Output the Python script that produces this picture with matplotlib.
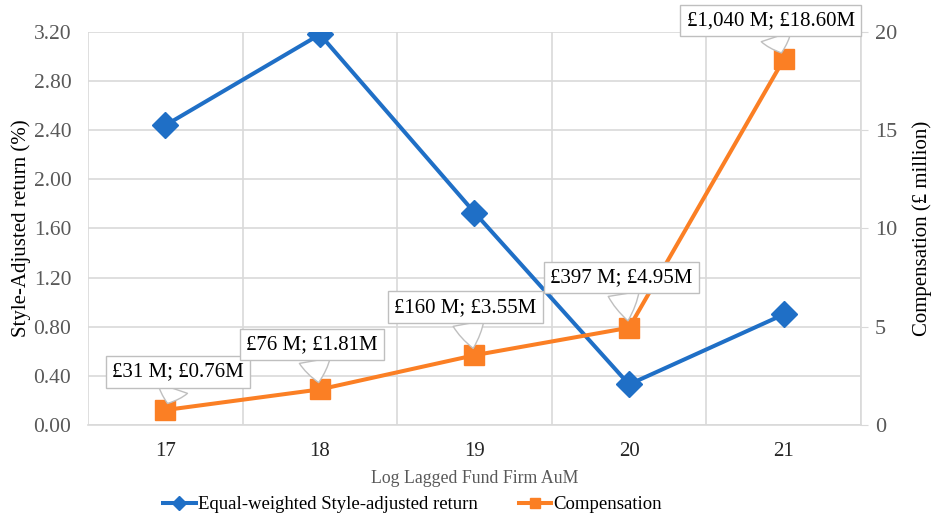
import matplotlib.pyplot as plt

plt.rcParams['font.family'] = ['Liberation Serif', 'DejaVu Serif']

log_aum = [17, 18, 19, 20, 21]
style_ret = [2.44, 3.18, 1.73, 0.33, 0.90]
compensation = [0.76, 1.81, 3.55, 4.95, 18.60]
callouts = ['£31 M; £0.76M', '£76 M; £1.81M', '£160 M; £3.55M',
            '£397 M; £4.95M', '£1,040 M; £18.60M']
# label box offsets from the point, in pixels
offsets = [(13, 38), (-8, 45), (-9, 48), (-8, 50), (-13, 39)]

blue = '#1f6fc6'
orange = '#fb7f24'
grid_c = '#d9d9d9'
tick_c = '#595959'

fig = plt.figure(figsize=(9.33, 5.21), dpi=100)
ax = fig.add_axes([0.0943, 0.1843, 0.8285, 0.7543])
ax2 = ax.twinx()

ln1, = ax.plot(log_aum, style_ret, color=blue, lw=2.9, marker='D', ms=13.5,
               label='Equal-weighted Style-adjusted return')
ln2, = ax2.plot(log_aum, compensation, color=orange, lw=2.9, marker='s', ms=14,
                label='Compensation')

ax.set_xlim(16.5, 21.5)
ax.set_ylim(0, 3.2)
ax2.set_ylim(0, 20)
ax.set_xticks(log_aum)
ax.set_yticks([i * 0.4 for i in range(9)])
ax.set_yticklabels([f'{i * 0.4:.2f}' for i in range(9)])
ax2.set_yticks([0, 5, 10, 15, 20])

ax.set_xticks([16.5 + i for i in range(6)], minor=True)
ax.grid(True, axis='y', color=grid_c, lw=1.2)
ax.grid(True, axis='x', which='minor', color=grid_c, lw=1.2)
ax.tick_params(axis='x', which='both', length=0, labelsize=15, pad=12, labelcolor='#262626')
ax.tick_params(axis='y', length=0, labelsize=15.5, labelcolor=tick_c, pad=12)
ax2.tick_params(axis='y', length=5, color=grid_c, labelsize=16, labelcolor=tick_c, pad=5)

for a in (ax, ax2):
    for s in a.spines.values():
        s.set_visible(False)
ax2.spines['right'].set_visible(True)
ax2.spines['right'].set_color(grid_c)
ax2.spines['right'].set_linewidth(1.2)
ax.spines['bottom'].set_visible(True)
ax.spines['bottom'].set_color(grid_c)
ax.spines['bottom'].set_linewidth(1.2)

ax.set_ylabel('Style-Adjusted return (%)', fontsize=15, labelpad=2)
ax2.set_ylabel('Compensation (£ million)', fontsize=15, labelpad=11)
ax.set_xlabel('Log Lagged Fund Firm AuM', fontsize=12.8, color=tick_c, labelpad=7)

for x, y, txt, off in zip(log_aum, compensation, callouts, offsets):
    ax2.annotate(txt, xy=(x, y), xytext=off, textcoords='offset pixels',
                 ha='center', va='center', fontsize=15, zorder=5,
                 bbox=dict(boxstyle='square,pad=0.3', fc='white', ec='#bfbfbf', lw=1),
                 arrowprops=dict(arrowstyle='wedge,tail_width=1.5,shrink_factor=0.6',
                                 fc='white', ec='#bfbfbf', lw=1,
                                 shrinkA=0, shrinkB=5))

fig.legend(handles=[ln1, ln2], loc='center', bbox_to_anchor=(0.442, 0.031), ncol=2,
           frameon=False, fontsize=13.5, markerscale=0.55, handlelength=1.75,
           handletextpad=0.1, columnspacing=2.2)

fig.savefig('out.png', dpi=100)
